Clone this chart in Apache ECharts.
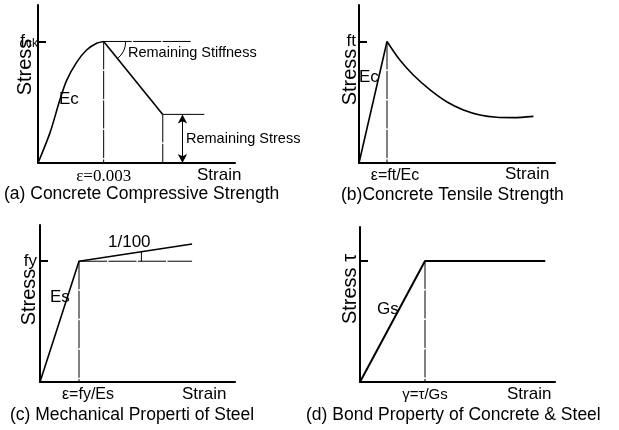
<!DOCTYPE html>
<html>
<head>
<meta charset="utf-8">
<script src="https://cdn.jsdelivr.net/npm/echarts@6/dist/echarts.min.js"></script>
<style>
  html, body { margin: 0; padding: 0; background: #fff; }
  #chart { width: 619px; height: 430px; }
</style>
</head>
<body>
<div id="chart"></div>
<script>
// (a) Concrete in compression — stress normalised to fck = 1
const compRiseStrain = [0, 0.00055, 0.001, 0.00131, 0.00177, 0.00222, 0.00268, 0.003];
const compRiseStress = [0, 0.25, 0.52, 0.68, 0.83, 0.93, 0.985, 1.0];
const compPeakStrain = 0.003;
const compSoftEndStrain = 0.0057;
const compResidualStress = 0.4;
const compResidualEndStrain = 0.0076;
const compFckRefEndStrain = 0.007;
const compArrowStrain = 0.0066;

// (b) Concrete in tension — stress normalised to ft = 1
const tensStrain = [0, 1.0, 1.46, 1.94, 2.54, 3.13, 3.73, 4.32, 4.92, 5.51, 6.23];
const tensStress = [0, 1.0, 0.847, 0.724, 0.601, 0.504, 0.436, 0.395, 0.376, 0.373, 0.384];

// (c) Steel — bilinear with hardening
const steelStrain = [0, 1, 3.9];
const steelStress = [0, 1, 1.143];
const steelRefEndStrain = 3.9;
const steelSlopeMarkStrain = 2.6;

// (d) Bond — elastic then plastic plateau
const bondStrain = [0, 1, 2.85];
const bondStress = [0, 1, 1];

// axis ranges for each panel
const axisMax = {
  a: [0.009, 1.3],
  b: [7, 1.3],
  c: [5, 1.3],
  d: [3, 1.28]
};

const SANS = '"Liberation Sans", Arial, sans-serif';
const SERIF = '"Liberation Serif", "Times New Roman", serif';

const zip = (xs, ys) => xs.map((x, i) => [x, ys[i]]);

const grids = [
  { left: 38, top: 5, width: 197, height: 158 },
  { left: 359, top: 5, width: 196, height: 158 },
  { left: 40, top: 225, width: 195, height: 157 },
  { left: 360, top: 227, width: 195, height: 155 }
];

const axisLineStyle = { show: true, onZero: false, lineStyle: { color: '#000', width: 2 } };

function xAxisFor(i, max, label, family, size, pad) {
  return {
    type: 'value', gridIndex: i, min: 0, max: max,
    axisLine: axisLineStyle,
    splitLine: { show: false },
    axisTick: { show: false },
    axisLabel: {
      show: true,
      customValues: [label.at],
      formatter: () => label.text,
      color: '#000',
      fontFamily: family,
      fontSize: size,
      margin: 5,
      padding: pad || 0,
      hideOverlap: false
    }
  };
}

function yAxisFor(i, max, labelText, margin) {
  return {
    type: 'value', gridIndex: i, min: 0, max: max,
    axisLine: axisLineStyle,
    splitLine: { show: false },
    axisTick: { show: true, inside: true, length: 8, customValues: [1], lineStyle: { color: '#000', width: 2 } },
    axisLabel: {
      show: labelText !== null,
      customValues: [1],
      formatter: () => labelText || '',
      margin: margin,
      color: '#000',
      hideOverlap: false,
      rich: {
        f: { fontFamily: SANS, fontSize: 17, color: '#000' },
        s: { fontFamily: SANS, fontSize: 12, color: '#000', padding: [5, 0, 0, 1] }
      }
    }
  };
}

const thick = { color: '#000', width: 1.6 };
const thin = { color: '#000', width: 1 };
const dashed = { color: '#000', width: 1, type: [28, 1.5] };

function line(i, data, style, smooth) {
  return {
    type: 'line', xAxisIndex: i, yAxisIndex: i, data: data,
    symbol: 'none', smooth: smooth || false,
    lineStyle: style, silent: true, animation: false, clip: false
  };
}

const series = [
  // (a)
  line(0, zip(compRiseStrain, compRiseStress), thick, 0.3),
  line(0, [[compPeakStrain, 1], [compSoftEndStrain, compResidualStress]], thick),
  line(0, [[compSoftEndStrain, compResidualStress], [compResidualEndStrain, compResidualStress]], thin),
  line(0, [[compPeakStrain, 1], [compFckRefEndStrain, 1]], dashed),
  line(0, [[compPeakStrain, 1], [compPeakStrain, 0]], dashed),
  line(0, [[compSoftEndStrain, compResidualStress], [compSoftEndStrain, 0]], dashed),
  {
    type: 'line', xAxisIndex: 0, yAxisIndex: 0, data: [], silent: true, animation: false,
    markLine: {
      silent: true, animation: false,
      symbol: ['arrow', 'arrow'], symbolSize: [7, 9],
      label: { show: false },
      lineStyle: { color: '#000', width: 1, type: 'solid' },
      data: [[{ coord: [compArrowStrain, compResidualStress] }, { coord: [compArrowStrain, 0] }]]
    }
  },
  // (b)
  line(1, zip(tensStrain.slice(0, 2), tensStress.slice(0, 2)), thick),
  line(1, zip(tensStrain.slice(1), tensStress.slice(1)), thick, 0.3),
  line(1, [[tensStrain[1], 1], [tensStrain[1], 0]], dashed),
  // (c)
  line(2, zip(steelStrain, steelStress), thick),
  line(2, [[steelStrain[1], 1], [steelRefEndStrain, 1]], dashed),
  line(2, [[steelStrain[1], 1], [steelStrain[1], 0]], dashed),
  line(2, [[steelSlopeMarkStrain, 1],
           [steelSlopeMarkStrain, 1 + (steelStress[2] - 1) * (steelSlopeMarkStrain - 1) / (steelStrain[2] - 1)]], thin),
  // (d)
  line(3, zip(bondStrain, bondStress), { color: '#000', width: 2 }),
  line(3, [[bondStrain[1], 1], [bondStrain[1], 0]], dashed)
];

function txt(text, x, y, size, opts) {
  opts = opts || {};
  return {
    type: 'text', x: x, y: y, rotation: opts.rot || 0, silent: true,
    style: {
      text: text, fill: '#000',
      font: size + 'px ' + (opts.family || SANS),
      align: opts.align || 'left', verticalAlign: 'middle'
    }
  };
}

const texts = [
  // axis names
  txt('Stress', 25, 67, 20, { rot: Math.PI / 2, align: 'center' }),
  txt('Stress', 350, 77, 20, { rot: Math.PI / 2, align: 'center' }),
  txt('Stress', 29, 297, 20, { rot: Math.PI / 2, align: 'center' }),
  txt('Stress τ', 350, 289, 20, { rot: Math.PI / 2, align: 'center' }),
  txt('Strain', 197, 175, 17),
  txt('Strain', 505, 174, 17),
  txt('Strain', 182, 394, 17),
  txt('Strain', 507, 394, 17),
  // captions
  txt('(a) Concrete Compressive Strength', 4, 194, 17.5),
  txt('(b)Concrete Tensile Strength', 341, 195, 17.5),
  txt('(c) Mechanical Properti of Steel', 10, 415, 17.5),
  txt('(d) Bond Property of Concrete & Steel', 306, 415, 17.5),
  // annotations
  txt('Remaining Stiffness', 128, 53, 14.5),
  txt('Remaining Stress', 186, 139, 14.5),
  txt('Ec', 59, 99, 17),
  txt('Ec', 359, 77, 17),
  txt('Es', 50, 297, 17),
  txt('Gs', 377, 309, 17),
  txt('1/100', 108, 242, 17)
];

const option = {
  backgroundColor: '#fff',
  animation: false,
  grid: grids,
  xAxis: [
    xAxisFor(0, axisMax.a[0], { at: compPeakStrain, text: 'ε=0.003' }, SERIF, 17),
    xAxisFor(1, axisMax.b[0], { at: tensStrain[1], text: 'ε=ft/Ec' }, SANS, 16, [0, 0, 0, 16]),
    xAxisFor(2, axisMax.c[0], { at: steelStrain[1], text: 'ε=fy/Es' }, SANS, 16, [0, 0, 0, 18]),
    xAxisFor(3, axisMax.d[0], { at: bondStrain[1], text: 'γ=τ/Gs' }, SANS, 15)
  ],
  yAxis: [
    yAxisFor(0, axisMax.a[1], '{f|f}{s|ck}', 0),
    yAxisFor(1, axisMax.b[1], '{f|ft}', 3),
    yAxisFor(2, axisMax.c[1], '{f|fy}', 3),
    yAxisFor(3, axisMax.d[1], null, 3)
  ],
  series: series,
  graphic: { elements: texts }
};

const chart = echarts.init(document.getElementById('chart'), null, { renderer: 'canvas' });
chart.setOption(option);

// angle marker between the fck reference and the softening branch
const peakPx = chart.convertToPixel({ xAxisIndex: 0, yAxisIndex: 0 }, [compPeakStrain, 1]);
const softPx = chart.convertToPixel({ xAxisIndex: 0, yAxisIndex: 0 }, [compSoftEndStrain, compResidualStress]);
const softAngle = Math.atan2(softPx[1] - peakPx[1], softPx[0] - peakPx[0]);
chart.setOption({
  graphic: {
    elements: texts.concat([{
      type: 'arc', silent: true,
      shape: { cx: peakPx[0], cy: peakPx[1], r: 22, startAngle: 0, endAngle: softAngle, clockwise: true },
      style: { stroke: '#000', lineWidth: 1, fill: null }
    }])
  }
});
</script>
</body>
</html>
